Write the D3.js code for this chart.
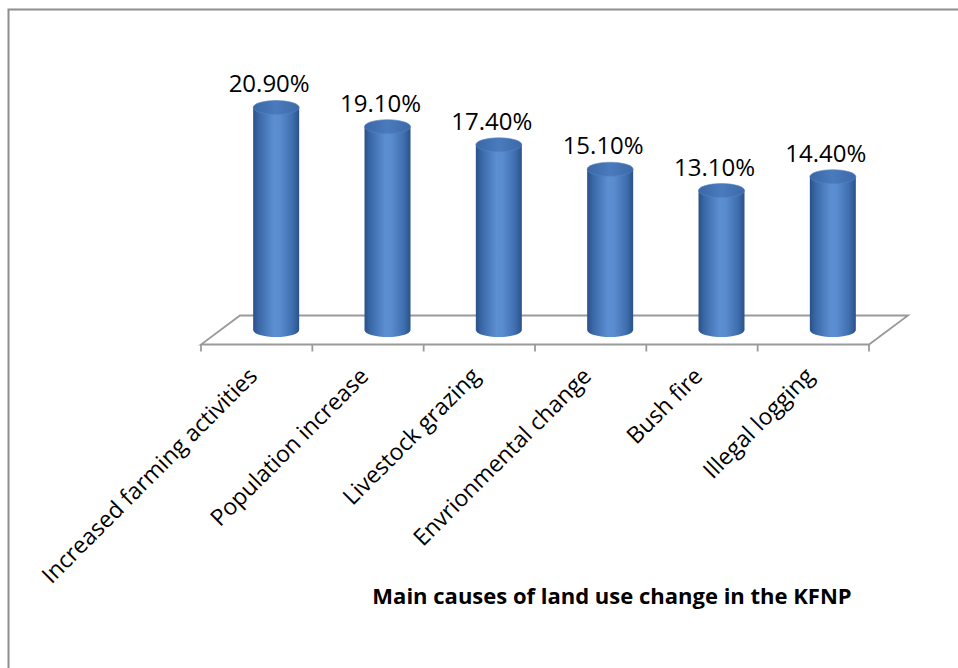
<!DOCTYPE html>
<html>
<head>
<meta charset="utf-8">
<script src="https://cdn.jsdelivr.net/npm/d3@7"></script>
<style>
  html, body { margin: 0; padding: 0; background: #fff; }
  svg { display: block; }
  text { font-family: "Open Sans", "Noto Sans", sans-serif; fill: #000; }
</style>
</head>
<body>
<svg id="chart" width="958" height="668"></svg>
<script>
const categories = ["Increased farming activities", "Population increase", "Livestock grazing",
                    "Envrionmental change", "Bush fire", "Illegal logging"];
const values = [20.9, 19.1, 17.4, 15.1, 13.1, 14.4];
const valueLabels = ["20.90%", "19.10%", "17.40%", "15.10%", "13.10%", "14.40%"];
const chartTitle = "Main causes of land use change in the KFNP";

const svg = d3.select("#chart");

// outer border (right/bottom edges are outside the picture)
svg.append("rect")
  .attr("x", 8.5).attr("y", 9.5).attr("width", 1000).attr("height", 700)
  .attr("fill", "none").attr("stroke", "#8e8e8e").attr("stroke-width", 2);

// geometry of the 3D floor
const frontY = 344.5;
const depthX = 39, depthY = -29;

const x = d3.scaleBand().domain(categories).range([201, 869]).padding(0);
const baseY = frontY + depthY / 2;
const y = d3.scaleLinear().domain([0, 25]).range([baseY, baseY - 25 * 10.646]);

// gradients
const defs = svg.append("defs");
const g1 = defs.append("linearGradient").attr("id", "cyl")
  .attr("x1", "0%").attr("x2", "100%").attr("y1", "0%").attr("y2", "0%");
[["0%", "#2a5089"], ["12%", "#3a67a6"], ["45%", "#5b8fd2"], ["58%", "#5a8ccf"],
 ["85%", "#3f6fb0"], ["100%", "#2b5288"]].forEach(([o, c]) =>
  g1.append("stop").attr("offset", o).attr("stop-color", c));
const g2 = defs.append("linearGradient").attr("id", "cyltop")
  .attr("x1", "0%").attr("x2", "100%").attr("y1", "0%").attr("y2", "0%");
[["0%", "#3a67a6"], ["50%", "#4a7bbd"], ["100%", "#3c69a8"]].forEach(([o, c]) =>
  g2.append("stop").attr("offset", o).attr("stop-color", c));

// floor
const x0 = x.range()[0], x1 = x.range()[1];
svg.append("path")
  .attr("d", `M${x0},${frontY} L${x1},${frontY} L${x1 + depthX},${frontY + depthY} L${x0 + depthX},${frontY + depthY} Z`)
  .attr("fill", "none").attr("stroke", "#9a9a9a").attr("stroke-width", 1.8);

// ticks
const tickXs = categories.map(c => x(c)).concat([x1]);
svg.selectAll("line.tick").data(tickXs).enter().append("line")
  .attr("class", "tick")
  .attr("x1", d => d).attr("x2", d => d)
  .attr("y1", frontY).attr("y2", frontY + 7)
  .attr("stroke", "#9a9a9a").attr("stroke-width", 1.8);

// cylinders
const rx = 23, ry = 7;
const bars = svg.selectAll("g.bar").data(categories.map((c, i) => ({c, v: values[i], lab: valueLabels[i]})))
  .enter().append("g").attr("class", "bar");

bars.each(function(d) {
  const g = d3.select(this);
  const cx = x(d.c) + x.bandwidth() / 2 + depthX / 2;
  const top = y(d.v), bot = y(0);
  g.append("path")
    .attr("d", `M${cx - rx},${top} L${cx - rx},${bot} A${rx},${ry} 0 0 0 ${cx + rx},${bot} L${cx + rx},${top} Z`)
    .attr("fill", "url(#cyl)");
  g.append("ellipse")
    .attr("cx", cx).attr("cy", top).attr("rx", rx).attr("ry", ry)
    .attr("fill", "url(#cyltop)").attr("stroke", "#5585c4").attr("stroke-width", 0.6);
  g.append("text")
    .attr("x", cx - 7).attr("y", top - 15)
    .attr("text-anchor", "middle")
    .attr("font-size", 24)
    .text(d.lab);
});

// category labels
svg.selectAll("text.cat").data(categories).enter().append("text")
  .attr("class", "cat")
  .attr("text-anchor", "end")
  .attr("font-size", 23)
  .attr("transform", d => `translate(${x(d) + x.bandwidth() / 2 + 2},${frontY + 33}) rotate(-45)`)
  .text(d => d);

// axis title
svg.append("text")
  .attr("x", 612).attr("y", 604)
  .attr("text-anchor", "middle")
  .attr("font-size", 22)
  .attr("font-weight", "bold")
  .text(chartTitle);
</script>
</body>
</html>
